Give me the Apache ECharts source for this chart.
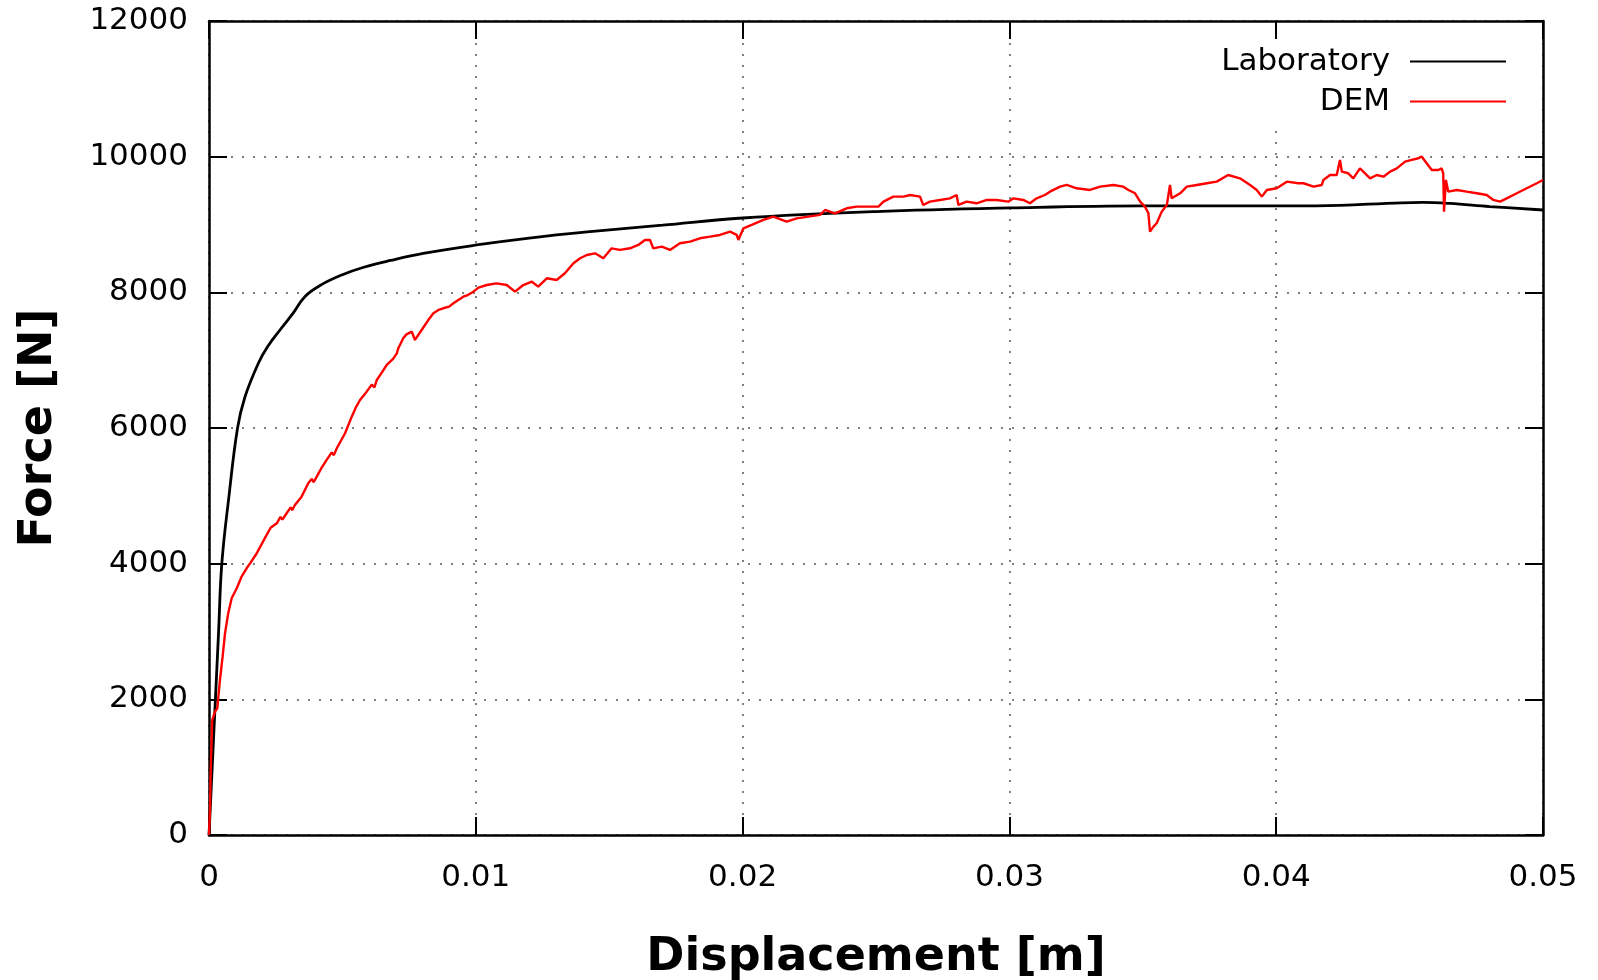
<!DOCTYPE html>
<html>
<head>
<meta charset="utf-8">
<style>
  html, body { margin: 0; padding: 0; background: #fff; }
  #chart { width: 1598px; height: 980px; }
</style>
<script src="https://cdn.jsdelivr.net/npm/echarts@6/dist/echarts.min.js"></script>
</head>
<body>
<div id="chart"></div>
<script>
// ---- data ----
const xTicks = [0, 0.01, 0.02, 0.03, 0.04, 0.05];
const yTicks = [0, 2000, 4000, 6000, 8000, 10000, 12000];

const labX = [0, 0.00012, 0.00024, 0.00036, 0.00048, 0.00075, 0.00107, 0.00135, 0.00185, 0.0022, 0.00266, 0.00316, 0.0036, 0.0042, 0.0050, 0.0058, 0.0068, 0.00803, 0.01003, 0.012, 0.01428, 0.017, 0.02, 0.025, 0.03, 0.035, 0.0415, 0.0447, 0.0455, 0.0465, 0.048, 0.05];
const labY = [0, 1000, 2000, 3000, 4000, 5000, 6000, 6460, 6954, 7200, 7445, 7696, 7940, 8110, 8260, 8370, 8470, 8574, 8698, 8800, 8894, 8990, 9096, 9190, 9244, 9275, 9276, 9320, 9325, 9310, 9265, 9214];

const demX = [0, 0.00004, 0.00006, 0.00012, 0.000225, 0.00031, 0.00041, 0.00051, 0.0006, 0.00072, 0.00085, 0.00104, 0.00122, 0.00141, 0.00154, 0.00179, 0.0021, 0.00231, 0.00254, 0.00268, 0.00275, 0.00291, 0.00306, 0.00312, 0.00322, 0.00347, 0.00372, 0.00385, 0.00392, 0.00404, 0.0042, 0.00441, 0.0046, 0.00468, 0.00479, 0.0051, 0.00535, 0.0055, 0.00566, 0.00591, 0.0061, 0.0062, 0.00629, 0.0065, 0.00666, 0.0069, 0.00704, 0.0071, 0.00728, 0.0074, 0.0076, 0.00772, 0.00797, 0.0082, 0.00841, 0.0086, 0.00878, 0.009, 0.00916, 0.0094, 0.00953, 0.0097, 0.00991, 0.0101, 0.01041, 0.01078, 0.01116, 0.01147, 0.01178, 0.0121, 0.01234, 0.01266, 0.01303, 0.01334, 0.01366, 0.01391, 0.01416, 0.01447, 0.01478, 0.01509, 0.0154, 0.01578, 0.01609, 0.01634, 0.01653, 0.01665, 0.01697, 0.01728, 0.01765, 0.01803, 0.0184, 0.01878, 0.01915, 0.01953, 0.01978, 0.01984, 0.02003, 0.02034, 0.02078, 0.02115, 0.02165, 0.02203, 0.02246, 0.0229, 0.02309, 0.02346, 0.0239, 0.02428, 0.02478, 0.02509, 0.02528, 0.02565, 0.02603, 0.02628, 0.02665, 0.02677, 0.02702, 0.0274, 0.02777, 0.02802, 0.02809, 0.0284, 0.02877, 0.02915, 0.02952, 0.02996, 0.03015, 0.03052, 0.03077, 0.03102, 0.03133, 0.03152, 0.0319, 0.03215, 0.03252, 0.03302, 0.0334, 0.0339, 0.03427, 0.03446, 0.03471, 0.0349, 0.03508, 0.03521, 0.03527, 0.0354, 0.03552, 0.03571, 0.0359, 0.03602, 0.03608, 0.0364, 0.03665, 0.03702, 0.0374, 0.03777, 0.0382, 0.03864, 0.03902, 0.03927, 0.03946, 0.03965, 0.04002, 0.0404, 0.04083, 0.04102, 0.0414, 0.04171, 0.04177, 0.04202, 0.04227, 0.04239, 0.04246, 0.0427, 0.04289, 0.04314, 0.04333, 0.04352, 0.04377, 0.04402, 0.04427, 0.04452, 0.04483, 0.04508, 0.04533, 0.04545, 0.04564, 0.04583, 0.04608, 0.0462, 0.04626, 0.04629, 0.04636, 0.04645, 0.04677, 0.04714, 0.04752, 0.04789, 0.04814, 0.04839, 0.04864, 0.04902, 0.04939, 0.04977, 0.05];
const demY = [0, 400, 910, 1695, 1818, 1868, 2285, 2629, 2973, 3268, 3490, 3637, 3808, 3932, 4005, 4153, 4380, 4530, 4595, 4690, 4650, 4743, 4830, 4790, 4865, 4988, 5185, 5250, 5200, 5283, 5400, 5529, 5640, 5600, 5701, 5922, 6167, 6300, 6413, 6536, 6640, 6600, 6708, 6830, 6929, 7020, 7101, 7180, 7323, 7380, 7420, 7298, 7445, 7580, 7691, 7740, 7765, 7790, 7839, 7900, 7936, 7960, 8010, 8070, 8108, 8133, 8108, 8010, 8108, 8157, 8084, 8207, 8182, 8281, 8428, 8502, 8551, 8575, 8502, 8649, 8625, 8649, 8698, 8772, 8772, 8649, 8674, 8625, 8723, 8747, 8797, 8821, 8846, 8895, 8846, 8772, 8944, 8993, 9067, 9116, 9042, 9091, 9116, 9141, 9214, 9165, 9239, 9263, 9263, 9263, 9337, 9411, 9411, 9435, 9411, 9288, 9337, 9362, 9386, 9435, 9288, 9337, 9313, 9362, 9362, 9337, 9386, 9362, 9313, 9386, 9435, 9484, 9558, 9583, 9534, 9509, 9558, 9583, 9558, 9509, 9460, 9337, 9263, 9165, 8895, 8969, 9018, 9190, 9288, 9583, 9386, 9460, 9558, 9583, 9608, 9632, 9730, 9681, 9583, 9509, 9411, 9509, 9534, 9632, 9608, 9608, 9558, 9583, 9657, 9730, 9730, 9952, 9779, 9755, 9681, 9828, 9755, 9681, 9730, 9705, 9779, 9828, 9926, 9952, 9977, 10001, 9903, 9804, 9804, 9828, 9755, 9190, 9657, 9484, 9509, 9484, 9460, 9435, 9362, 9337, 9386, 9460, 9534, 9608, 9657];

const seriesNames = ['Laboratory', 'DEM'];

// ---- chart ----
const FONT = 'DejaVu Sans';
const zip = (xs, ys) => xs.map((x, i) => [x, ys[i]]);
const chart = echarts.init(document.getElementById('chart'), null, { renderer: 'canvas' });

const tickStyle = { show: true, inside: true, length: 18, lineStyle: { color: '#000', width: 2 } };
const axisLineStyle = { show: true, onZero: false, lineStyle: { color: '#000', width: 2.5 } };
const gridLine = { show: true, lineStyle: { color: '#555', width: 1.5, type: [2, 9] } };

const option = {
  backgroundColor: '#fff',
  animation: false,
  grid: { left: 209, right: 55, top: 21, bottom: 145, containLabel: false, outerBoundsMode: 'none' },
  legend: [
    {
      data: [seriesNames[0]], right: 88, top: 43, orient: 'vertical', align: 'right',
      icon: 'rect', itemWidth: 96, itemHeight: 2, selectedMode: false,
      backgroundColor: '#fff', padding: [3, 4, 3, 8], z: 5,
      textStyle: { fontFamily: FONT, fontSize: 31, color: '#000', padding: [0, 15, 0, 0] }
    },
    {
      data: [seriesNames[1]], right: 88, top: 83, orient: 'vertical', align: 'right',
      icon: 'rect', itemWidth: 96, itemHeight: 2, selectedMode: false,
      backgroundColor: '#fff', padding: [3, 4, 10, 70], z: 5,
      textStyle: { fontFamily: FONT, fontSize: 31, color: '#000', padding: [0, 15, 0, 0] }
    }
  ],
  xAxis: [
    {
      type: 'value', position: 'bottom', min: xTicks[0], max: xTicks[xTicks.length - 1], interval: 0.01,
      name: 'Displacement [m]', nameLocation: 'middle', nameGap: 100,
      nameTextStyle: { fontFamily: FONT, fontSize: 46, fontWeight: 'bold', color: '#000' },
      axisLine: axisLineStyle, axisTick: tickStyle, splitLine: gridLine,
      axisLabel: { margin: 27, fontFamily: FONT, fontSize: 31, color: '#000',
        formatter: v => String(+v.toFixed(3)) }
    },
    {
      type: 'value', position: 'top', min: xTicks[0], max: xTicks[xTicks.length - 1], interval: 0.01,
      axisLine: axisLineStyle, axisTick: tickStyle, splitLine: { show: false }, axisLabel: { show: false }
    }
  ],
  yAxis: [
    {
      type: 'value', position: 'left', min: yTicks[0], max: yTicks[yTicks.length - 1], interval: 2000,
      name: 'Force [N]', nameLocation: 'middle', nameGap: 147, nameRotate: 90,
      nameTextStyle: { fontFamily: FONT, fontSize: 46, fontWeight: 'bold', color: '#000' },
      axisLine: axisLineStyle, axisTick: tickStyle, splitLine: gridLine,
      axisLabel: { margin: 21, fontFamily: FONT, fontSize: 31, color: '#000',
        formatter: v => String(Math.round(v)) }
    },
    {
      type: 'value', position: 'right', min: yTicks[0], max: yTicks[yTicks.length - 1], interval: 2000,
      axisLine: axisLineStyle, axisTick: tickStyle, splitLine: { show: false }, axisLabel: { show: false }
    }
  ],
  series: [
    {
      name: seriesNames[0], type: 'line', data: zip(labX, labY), xAxisIndex: 0, yAxisIndex: 0,
      showSymbol: false, smooth: 0.4,
      lineStyle: { color: '#000', width: 2.8 }, itemStyle: { color: '#000' }, z: 3
    },
    {
      name: seriesNames[1], type: 'line', data: zip(demX, demY), xAxisIndex: 0, yAxisIndex: 0,
      showSymbol: false, smooth: false,
      lineStyle: { color: '#ff0000', width: 2.4 }, itemStyle: { color: '#ff0000' }, z: 4
    }
  ]
};
chart.setOption(option);
</script>
</body>
</html>
